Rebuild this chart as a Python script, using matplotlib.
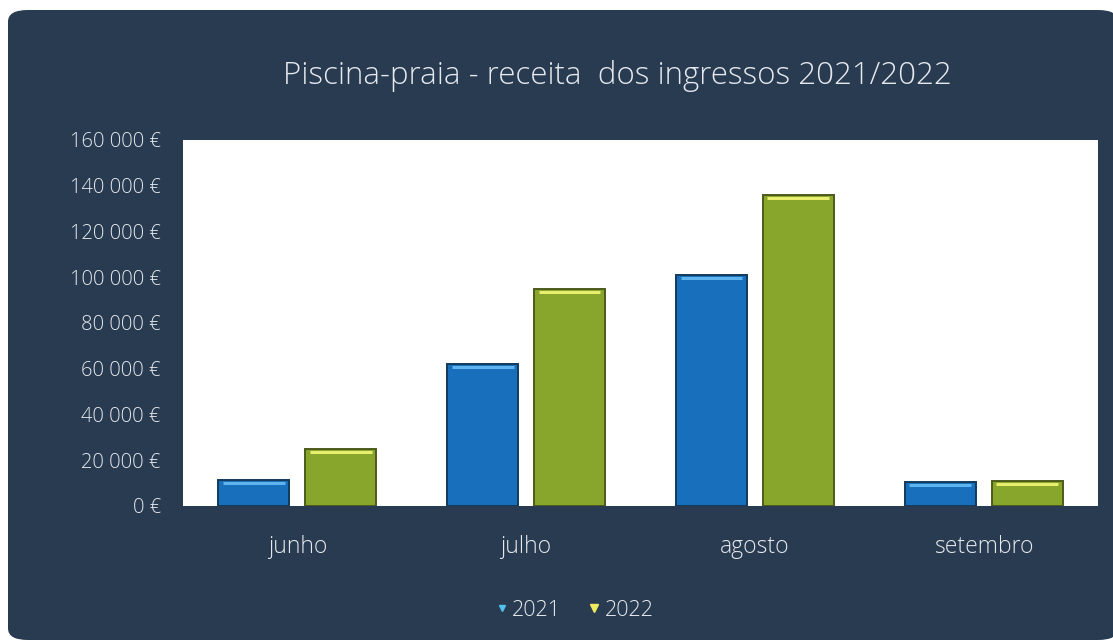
import matplotlib.pyplot as plt
import numpy as np
from matplotlib.patches import FancyBboxPatch
from matplotlib.lines import Line2D
from matplotlib.ticker import FuncFormatter

months = ['junho', 'julho', 'agosto', 'setembro']
receita_2021 = [11500, 62000, 101000, 10500]
receita_2022 = [25000, 95000, 136000, 11000]
years = ['2021', '2022']
y_ticks = [0, 20000, 40000, 60000, 80000, 100000, 120000, 140000, 160000]

bg = '#283b51'
blue = '#1870bd'
green = '#88a62b'
txt = '#e6e9ee'

plt.rcParams['font.family'] = ['Open Sans', 'DejaVu Sans']
plt.rcParams['font.weight'] = 'light'

fig = plt.figure(figsize=(11.13, 6.43), dpi=100)
fig.patch.set_facecolor('white')

# rounded dark panel behind everything
panel = FancyBboxPatch((8 / 1113, 3 / 643), 1110 / 1113, 630 / 643,
                       boxstyle='round,pad=0,rounding_size=0.018',
                       transform=fig.transFigure, facecolor=bg,
                       edgecolor='none', zorder=-10)
fig.patches.append(panel)

ax = fig.add_axes([0.1644, 0.2131, 0.8221, 0.5692])
ax.set_facecolor('white')

x = np.arange(len(months))
w = 0.31
off = 0.19
ax.bar(x - off, receita_2021, w, color=blue, edgecolor='#123a5c', linewidth=1.4, zorder=3)
ax.bar(x + off, receita_2022, w, color=green, edgecolor='#4c5a1c', linewidth=1.4, zorder=3)

# small glossy highlight at the top of each bar
for xs, vals, hc in [(x - off, receita_2021, '#5fb4ee'), (x + off, receita_2022, '#e8ee70')]:
    for xi, v in zip(xs, vals):
        ax.hlines(v - 1300, xi - w / 2 + 0.02, xi + w / 2 - 0.02, color=hc, linewidth=2.2, zorder=4)

ax.set_xlim(-0.5, 3.5)
ax.set_ylim(0, 160000)
ax.set_yticks(y_ticks)
ax.yaxis.set_major_formatter(FuncFormatter(lambda v, p: f'{int(v):,}'.replace(',', ' ') + ' €'))
ax.set_xticks(x)
ax.set_xticklabels(months)
ax.tick_params(axis='both', length=0, colors=txt)
ax.tick_params(axis='y', labelsize=14.5, pad=16)
ax.tick_params(axis='x', labelsize=16.5, pad=21)
for s in ax.spines.values():
    s.set_visible(False)

fig.text(0.555, 0.882, 'Piscina-praia - receita  dos ingressos 2021/2022',
         ha='center', va='center', color=txt, fontsize=22.5)

handles = [Line2D([], [], marker='v', linestyle='none', color='#4fc3f0', markersize=5),
           Line2D([], [], marker='v', linestyle='none', color='#f0ea60', markersize=6)]
leg = fig.legend(handles, years, loc='center', bbox_to_anchor=(0.515, 0.051),
                 ncol=2, frameon=False, fontsize=15.5, handletextpad=0.1,
                 columnspacing=1.1, handlelength=0.8)
for t in leg.get_texts():
    t.set_color(txt)

fig.savefig('out.png', dpi=100, facecolor=fig.get_facecolor())
